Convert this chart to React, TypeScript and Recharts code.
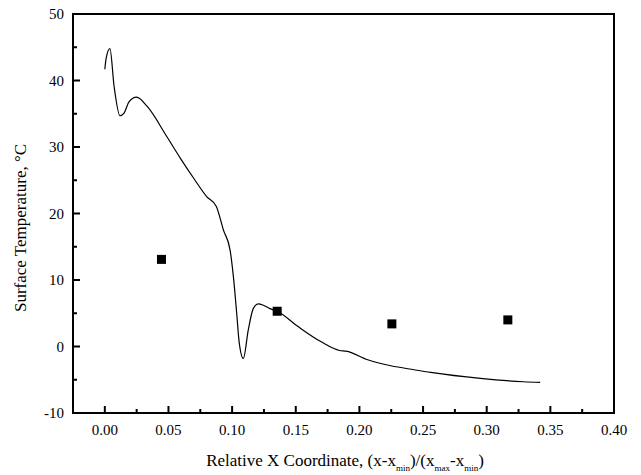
/** Surface temperature vs relative X coordinate - line (simulation) + squares (measured) */
import React from 'react';
import { ComposedChart, Line, XAxis, YAxis, ReferenceArea } from 'recharts';

// simulated profile
const simX = [
  0.0, 0.001, 0.004, 0.0073, 0.0119, 0.0151, 0.019, 0.025, 0.0333, 0.0489, 0.0594, 0.0698,
  0.0802, 0.0875, 0.0932, 0.0984, 0.101, 0.1036, 0.1055, 0.1088, 0.1127, 0.1166, 0.1205,
  0.1245, 0.1297, 0.1354, 0.1518, 0.17, 0.1844, 0.1895, 0.2065, 0.2247, 0.243, 0.256,
  0.295, 0.3289, 0.342,
];
const simT = [
  41.7, 43.3, 44.8, 39.1, 34.7, 35.1, 36.8, 37.5, 36.1, 31.5, 28.3, 25.3,
  22.5, 21.1, 17.5, 14.5, 10.5, 5.0, 0.7, -1.8, 2.5, 5.7, 6.4,
  6.2, 5.7, 5.3, 3.0, 0.7, -0.6, -0.7, -2.0, -2.9, -3.5, -3.9,
  -4.8, -5.3, -5.4,
];

// measured points
const measX = [0.0445, 0.1354, 0.2255, 0.3166];
const measT = [13.1, 5.3, 3.4, 4.0];

const xTicks = [0, 0.025, 0.05, 0.075, 0.1, 0.125, 0.15, 0.175, 0.2, 0.225, 0.25, 0.275, 0.3, 0.325, 0.35, 0.375, 0.4];
const yTicks = [-10, -5, 0, 5, 10, 15, 20, 25, 30, 35, 40, 45, 50];
const xDomain = [-0.025, 0.4];
const yDomain = [-10, 50];

const curve = simX.map((x, i) => ({ x, t: simT[i] }));
const points = measX.map((x, i) => ({ x, t: measT[i] }));

const FONT = 'Liberation Serif, Times New Roman, serif';
const AXIS_LINE = { stroke: '#000', strokeWidth: 2 };

const isMajor = (v: number, step: number) => Math.abs(v / step - Math.round(v / step)) < 1e-6;

// inward tick marks drawn as filled rects, label only on majors
function XTick(p: any) {
  const x = Number(p.x);
  const y = Number(p.y);
  const v = Number(p.payload.value);
  const major = isMajor(v, 0.05);
  const len = major ? 7 : 4;
  return (
    <g>
      <rect x={x - 1} y={y - len} width={2} height={len} fill="#000" />
      {major && (
        <text x={x} y={y + 22} textAnchor="middle" fontFamily={FONT} fontSize={15} fill="#000">
          {v.toFixed(2)}
        </text>
      )}
    </g>
  );
}

function YTick(p: any) {
  const x = Number(p.x);
  const y = Number(p.y);
  const v = Number(p.payload.value);
  const major = isMajor(v, 10);
  const len = major ? 7 : 4;
  return (
    <g>
      <rect x={x} y={y - 1} width={len} height={2} fill="#000" />
      {major && (
        <text x={x - 9} y={y + 5} textAnchor="end" fontFamily={FONT} fontSize={15} fill="#000">
          {v}
        </text>
      )}
    </g>
  );
}

// filled square marker for the measured points
function SquareDot(p: any) {
  const { cx, cy, index } = p;
  if (cx == null || cy == null) return <g key={index} />;
  return <rect key={index} x={cx - 4.5} y={cy - 4.5} width={9} height={9} fill="#000" />;
}

// plot box: x 73..614, y 14..413
function Titles() {
  const sub = { fontSize: 9, baselineShift: -5 } as any;
  return (
    <svg width={641} height={475} style={styles.overlay}>
      <text x={345} y={466} textAnchor="middle" fontFamily={FONT} fontSize={17} fill="#000">
        Relative X Coordinate, (x-x
        <tspan {...sub}>min</tspan>
        <tspan>)/(x</tspan>
        <tspan {...sub}>max</tspan>
        <tspan>-x</tspan>
        <tspan {...sub}>min</tspan>
        <tspan>)</tspan>
      </text>
      <text
        x={20}
        y={228}
        transform="rotate(-90 20 228)"
        textAnchor="middle"
        dominantBaseline="central"
        fontFamily={FONT}
        fontSize={17}
        fill="#000"
      >
        Surface Temperature, °C
      </text>
    </svg>
  );
}

export default function App() {
  return (
    <div style={styles.wrap}>
      <ComposedChart width={641} height={475} margin={{ top: 14, right: 27, left: 0, bottom: 0 }}>
        <XAxis
          dataKey="x"
          type="number"
          domain={xDomain}
          ticks={xTicks}
          interval={0}
          height={62}
          tickSize={0}
          tickMargin={0}
          tickLine={false}
          axisLine={AXIS_LINE}
          tick={XTick}
        />
        <YAxis
          dataKey="t"
          type="number"
          domain={yDomain}
          ticks={yTicks}
          interval={0}
          width={73}
          tickSize={0}
          tickMargin={0}
          tickLine={false}
          axisLine={AXIS_LINE}
          tick={YTick}
        />
        {/* plot frame, drawn through the axis scales */}
        <ReferenceArea
          x1={xDomain[0]}
          x2={xDomain[1]}
          y1={yDomain[0]}
          y2={yDomain[1]}
          stroke="#000"
          strokeWidth={2}
          fill="none"
          fillOpacity={0}
          ifOverflow="visible"
        />
        <Line data={curve} dataKey="t" type="monotone" stroke="#000" strokeWidth={1.2} dot={false} isAnimationActive={false} />
        <Line data={points} dataKey="t" stroke="none" dot={SquareDot} isAnimationActive={false} />
      </ComposedChart>
      <Titles />
    </div>
  );
}

const styles: Record<string, React.CSSProperties> = {
  wrap: { position: 'absolute', left: 0, top: 0 },
  overlay: { position: 'absolute', left: 0, top: 0, pointerEvents: 'none' },
};
